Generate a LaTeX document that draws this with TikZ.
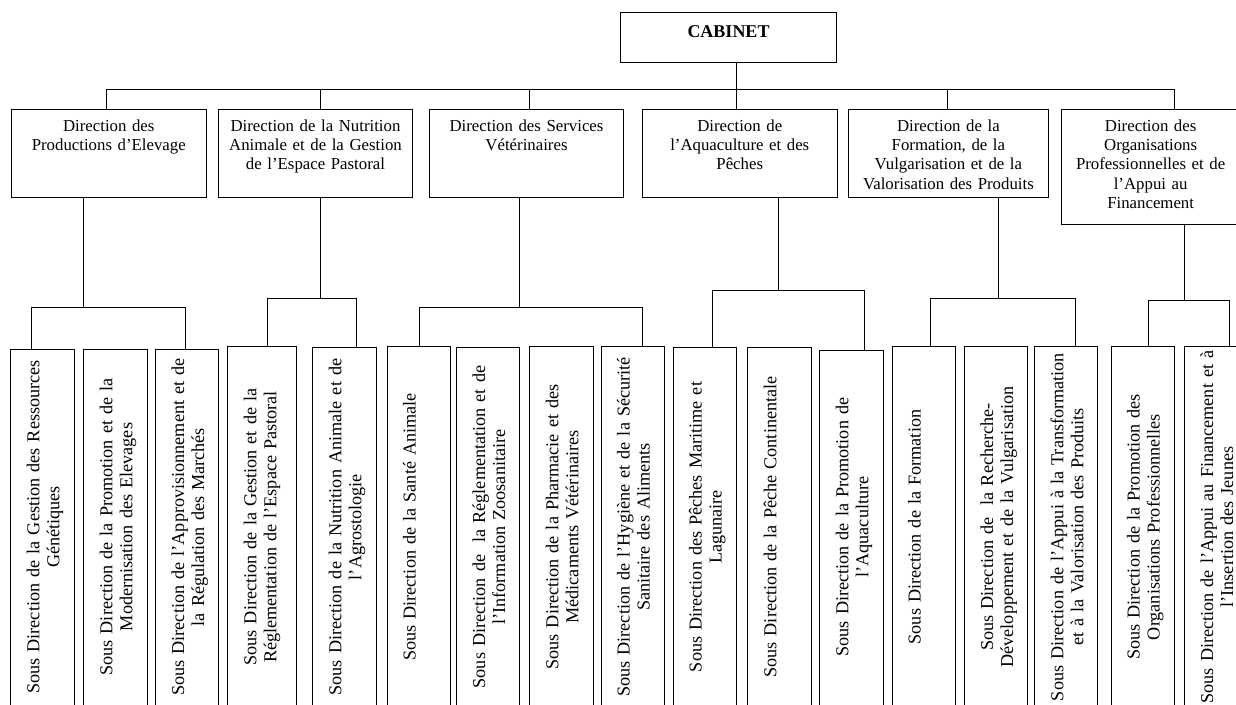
\documentclass[tikz,border=0pt]{standalone}
\usepackage{fontspec}
\setmainfont{Liberation Serif}
\tikzset{
  box/.style={draw, line width=1pt, inner sep=0pt, anchor=north west},
  conn/.style={draw, line width=1pt},
  dtext/.style={anchor=base, text width=205pt, align=center, inner sep=0pt, font=\fontsize{16.8}{19.3}\selectfont},
  stext/.style={rotate=90, anchor=base, text width=380pt, align=center, inner sep=0pt, font=\fontsize{18.2}{20}\selectfont},
  cabtext/.style={anchor=base, inner sep=0pt, font=\bfseries\fontsize{18}{20}\selectfont}
}
\newcommand\SDbox[5]{%
  \node[box, minimum width={#3-#2}, minimum height={720-#4}] (#1) at (#2,#4) {};
  \node[stext] (#1t) at (#2+29,527) {#5};
}
\newcommand\Dbox[6]{%
  \node[box, minimum width={#3-#2}, minimum height={#4-109}] (#1) at (#2,109) {};
  \node[dtext] (#1t) at ([yshift=-22.3pt]#1.north) {#6};
}
\begin{document}
\begin{tikzpicture}[x=1pt, y=-1pt]
\fill[white] (0,0) rectangle (1236,704);
\useasboundingbox (0,0) rectangle (1236,704);

% CABINET
\node[box, minimum width=216, minimum height=50] (cab) at (620,12.3) {};
\node[cabtext] (cabt) at ([yshift=-25.2pt]cab.north) {CABINET};

% Directions
\Dbox{d1}{11}{205.5}{196.7}{}{Direction des\\ Productions d’Elevage}
\Dbox{d2}{218}{412}{196.7}{}{Direction de la Nutrition\\ Animale et de la Gestion\\ de l’Espace Pastoral}
\Dbox{d3}{429}{623}{196.7}{}{Direction des Services\\ Vétérinaires}
\Dbox{d4}{642}{836.5}{196.7}{}{Direction de\\ l’Aquaculture et des\\ Pêches}
\Dbox{d5}{847.5}{1048.3}{196.7}{}{Direction de la\\ Formation, de la\\ Vulgarisation et de la\\ Valorisation des Produits}
\Dbox{d6}{1061.3}{1239}{223.5}{}{Direction des\\ Organisations\\ Professionnelles et de\\ l’Appui au\\ Financement}

% Sous directions
\SDbox{s1}{10.3}{73.7}{349.3}{Sous Direction de la Gestion des Ressources\\ Génétiques}
\SDbox{s2}{83.3}{147}{349.3}{Sous Direction de la Promotion et de la\\ Modernisation des Elevages}
\SDbox{s3}{155}{218.3}{349.3}{Sous Direction de l’Approvisionnement et de\\ la Régulation des Marchés}
\SDbox{s4}{227.3}{296.3}{346.3}{Sous Direction de la Gestion et de la\\ Réglementation de l’Espace Pastoral}
\SDbox{s5}{312.3}{375.7}{347.3}{Sous Direction de la Nutrition Animale et de\\ l’Agrostologie}
\SDbox{s6}{386.7}{450}{346.3}{Sous Direction de la Santé Animale}
\SDbox{s7}{456}{519.3}{347.3}{Sous Direction de\ \ la Réglementation et de\\ l’Information Zoosanitaire}
\SDbox{s8}{529.3}{592.7}{346.3}{Sous Direction de la Pharmacie et des\\ Médicaments Vétérinaires}
\SDbox{s9}{600.7}{664}{346.3}{Sous Direction de l’Hygiène et de la Sécurité\\ Sanitaire des Aliments}
\SDbox{s10}{672.7}{736}{347.3}{Sous Direction des Pêches Maritime et\\ Lagunaire}
\SDbox{s11}{747.3}{810.7}{347.3}{Sous Direction de la Pêche Continentale}
\SDbox{s12}{819.3}{883}{350.3}{Sous Direction de la Promotion de\\ l’Aquaculture}
\SDbox{s13}{891.7}{955.3}{346.3}{Sous Direction de la Formation}
\SDbox{s14}{964}{1026.7}{346.3}{Sous Direction de\ \ la Recherche-\\ Développement et de la Vulgarisation}
\SDbox{s15}{1034.3}{1097}{346.3}{Sous Direction de l’Appui à la Transformation\\ et à la Valorisation des Produits}
\SDbox{s16}{1110.7}{1174}{346.3}{Sous Direction de la Promotion des\\ Organisations Professionnelles}
\SDbox{s17}{1184}{1247}{346.3}{Sous Direction de l’Appui au Financement et à\\ l’Insertion des Jeunes}

% Top bus
\coordinate (trunk) at (736,89.3);
\coordinate (j1) at (106,89.3);
\coordinate (j2) at (320,89.3);
\coordinate (j3) at (529,89.3);
\coordinate (j5) at (947.3,89.3);
\coordinate (j6) at (1174.4,89.3);
\draw[conn] (cab.south -| trunk) -- (trunk |- d4.north);
\draw[conn] (j1 |- d1.north) -- (j1) -- (j6) -- (j6 |- d6.north);
\draw[conn] (j2) -- (j2 |- d2.north);
\draw[conn] (j3) -- (j3 |- d3.north);
\draw[conn] (j5) -- (j5 |- d5.north);

% Group 1
\coordinate (b1) at (83.4,307);
\coordinate (g1l) at (31.7,307);
\coordinate (g1r) at (185.7,307);
\draw[conn] (d1.south -| b1) -- (b1);
\draw[conn] (g1l |- s1.north) -- (g1l) -- (g1r) -- (g1r |- s3.north);
% Group 2
\coordinate (b2) at (320,298);
\coordinate (g2l) at (267.3,298);
\coordinate (g2r) at (356,298);
\draw[conn] (d2.south -| b2) -- (b2);
\draw[conn] (g2l |- s4.north) -- (g2l) -- (g2r) -- (g2r |- s5.north);
% Group 3
\coordinate (b3) at (519.4,307);
\coordinate (g3l) at (419.3,307);
\coordinate (g3r) at (642.3,307);
\draw[conn] (d3.south -| b3) -- (b3);
\draw[conn] (g3l |- s6.north) -- (g3l) -- (g3r) -- (g3r |- s9.north);
% Group 4
\coordinate (b4) at (778.3,290);
\coordinate (g4l) at (712.7,290);
\coordinate (g4r) at (864,290);
\draw[conn] (d4.south -| b4) -- (b4);
\draw[conn] (g4l |- s10.north) -- (g4l) -- (g4r) -- (g4r |- s12.north);
% Group 5
\coordinate (b5) at (998,298);
\coordinate (g5l) at (930.3,298);
\coordinate (g5r) at (1075.3,298);
\draw[conn] (d5.south -| b5) -- (b5);
\draw[conn] (g5l |- s13.north) -- (g5l) -- (g5r) -- (g5r |- s15.north);
% Group 6
\coordinate (b6) at (1184.2,300);
\coordinate (g6l) at (1148.7,300);
\coordinate (g6r) at (1229,300);
\draw[conn] (d6.south -| b6) -- (b6);
\draw[conn] (g6l |- s16.north) -- (g6l) -- (g6r) -- (g6r |- s17.north);
\end{tikzpicture}
\end{document}
